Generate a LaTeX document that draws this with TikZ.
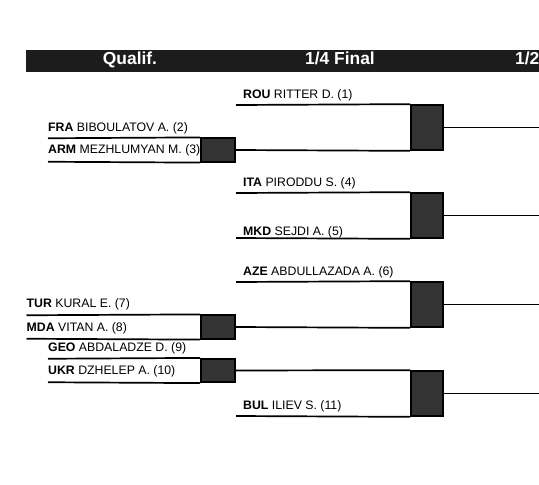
\documentclass[tikz,border=0pt]{standalone}
\usepackage{fontspec}
\setmainfont{Liberation Sans}
\usepackage{xcolor}
\definecolor{hdrblack}{RGB}{28,28,28}
\definecolor{boxgray}{RGB}{51,51,51}
\usepackage{tikz}
\usetikzlibrary{positioning}

\tikzset{
  bline/.style={black, line width=1.7pt},
  winbox/.style={draw=black, line width=1.7pt, fill=boxgray, inner sep=0pt, minimum width=32pt},
  qbox/.style={winbox, minimum height=23.5pt, minimum width=34pt},
  fbox/.style={winbox, minimum height=45pt},
  athlete/.style={anchor=base west, inner sep=0pt, font=\fontsize{12.3}{14}\selectfont},
  roundlbl/.style={anchor=base, font=\fontsize{17.4}{20}\selectfont\bfseries, text=white, inner sep=0pt}
}

\begin{document}
\begin{tikzpicture}[x=1pt, y=-1pt]
\useasboundingbox (0,0) rectangle (539,485);

% --- Header bar ---
\fill[hdrblack] (26,50) rectangle (539,71.5);
\node[roundlbl] (hqual) at (130,64.7) {Qualif.};
\node[roundlbl] (hquart) at (340,64.7) {1/4 Final};
\node[roundlbl, anchor=base west] (hsemi) at (515,64.7) {1/2};

% --- Qualification boxes ---
\node[qbox] (q1) at (218,150) {};
\node[qbox] (q2) at (218,327) {};
\node[qbox] (q3) at (218,370.5) {};

% --- Quarter final boxes ---
\node[fbox] (qf1) at (427,127.5) {};
\node[fbox] (qf2) at (427,215.5) {};
\node[fbox] (qf3) at (427,304.5) {};
\node[fbox] (qf4) at (427,393.5) {};

% free ends of the lines
\coordinate (fra) at (48,138.25);
\coordinate (arm) at (48,161.75);
\coordinate (tur) at (26.5,315.25);
\coordinate (mda) at (26.5,338.75);
\coordinate (geo) at (48,358.75);
\coordinate (ukr) at (48,382.25);
\coordinate (rou) at (236,105);
\coordinate (ita) at (236,193);
\coordinate (mkd) at (236,238);
\coordinate (aze) at (236,282);
\coordinate (bul) at (236,416);
\coordinate (s1) at (540,127.5);
\coordinate (s2) at (540,215.5);
\coordinate (s3) at (540,304.5);
\coordinate (s4) at (540,393.5);

% Qualification lines
\draw[bline] (fra) -- (q1.north west);
\draw[bline] (arm) -- (q1.south west);
\draw[bline] (tur) -- (q2.north west);
\draw[bline] (mda) -- (q2.south west);
\draw[bline] (geo) -- (q3.north west);
\draw[bline] (ukr) -- (q3.south west);

% Quarter final lines
\draw[bline] (rou) -- (qf1.north west);
\draw[bline] (q1.east) -- (qf1.south west);
\draw[bline] (ita) -- (qf2.north west);
\draw[bline] (mkd) -- (qf2.south west);
\draw[bline] (aze) -- (qf3.north west);
\draw[bline] (q2.east) -- (qf3.south west);
\draw[bline] (q3.east) -- (qf4.north west);
\draw[bline] (bul) -- (qf4.south west);

% Semi final lines
\draw[bline] (qf1.east) -- (s1);
\draw[bline] (qf2.east) -- (s2);
\draw[bline] (qf3.east) -- (s3);
\draw[bline] (qf4.east) -- (s4);

% --- Athlete names ---
\node[athlete] (n1) at (243,98) {\textbf{ROU} RITTER D. (1)};
\node[athlete] (n2) at (48,131.5) {\textbf{FRA} BIBOULATOV A. (2)};
\node[athlete] (n3) at (48,153.5) {\textbf{ARM} MEZHLUMYAN M. (3)};
\node[athlete] (n4) at (243,186) {\textbf{ITA} PIRODDU S. (4)};
\node[athlete] (n5) at (243,235) {\textbf{MKD} SEJDI A. (5)};
\node[athlete] (n6) at (243,275) {\textbf{AZE} ABDULLAZADA A. (6)};
\node[athlete] (n7) at (26.5,307.5) {\textbf{TUR} KURAL E. (7)};
\node[athlete] (n8) at (26.5,331.5) {\textbf{MDA} VITAN A. (8)};
\node[athlete] (n9) at (48,351.5) {\textbf{GEO} ABDALADZE D. (9)};
\node[athlete] (n10) at (48,374.5) {\textbf{UKR} DZHELEP A. (10)};
\node[athlete] (n11) at (243,409) {\textbf{BUL} ILIEV S. (11)};

\end{tikzpicture}
\end{document}
